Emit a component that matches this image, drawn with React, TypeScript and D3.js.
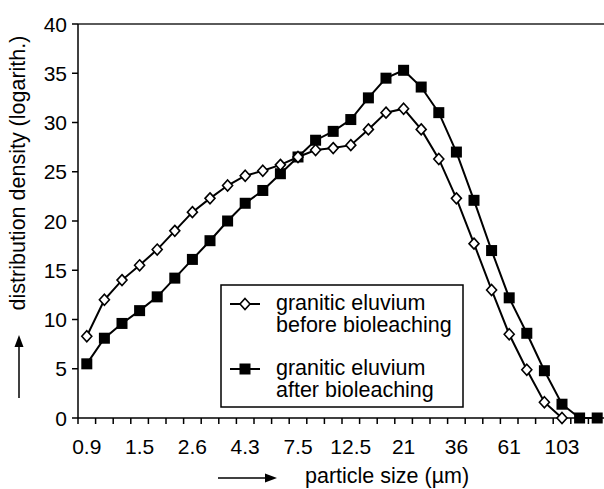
import React, { useEffect, useRef } from "react";
import * as d3 from "d3";

// one label every 3 classes (log-spaced size classes)
const tickLabels = ["0.9", "1.5", "2.6", "4.3", "7.5", "12.5", "21", "36", "61", "103"];
const classCount = 30;
const yTicks = [0, 5, 10, 15, 20, 25, 30, 35, 40];

const before = [8.3, 12.0, 14.0, 15.5, 17.1, 19.0, 20.9, 22.3, 23.6, 24.6, 25.1, 25.7, 26.5, 27.2, 27.4, 27.7, 29.3, 31.0, 31.4, 29.3, 26.3, 22.3, 17.7, 13.0, 8.5, 4.9, 1.6, 0];
const after = [5.5, 8.1, 9.6, 10.9, 12.3, 14.2, 16.1, 18.0, 20.0, 21.8, 23.1, 24.8, 26.5, 28.2, 29.1, 30.3, 32.5, 34.5, 35.3, 33.6, 31.0, 27.0, 22.1, 17.0, 12.2, 8.6, 4.8, 1.4, 0, 0];

const seriesNames = [
    ["granitic eluvium", "before bioleaching"],
    ["granitic eluvium", "after bioleaching"]
];

const FONT = "'Liberation Sans', Arial, sans-serif";

const App = () => {
    const svgRef = useRef(null);

    useEffect(() => {
        const width = 604, height = 489;
        const margin = { top: 24, left: 78, bottom: 71 };
        const plotRight = 606;

        const svg = d3.select(svgRef.current);
        svg.selectAll("*").remove();

        const classes = d3.range(classCount);
        const x = d3.scaleBand().domain(classes).range([margin.left, plotRight]).padding(0);
        const cx = (i) => x(i) + x.bandwidth() / 2;

        const y = d3.scaleLinear().domain([0, 40]).range([height - margin.bottom, margin.top]);

        // top frame line (grey)
        svg.append("line")
            .attr("x1", margin.left).attr("x2", plotRight)
            .attr("y1", y(40)).attr("y2", y(40))
            .attr("stroke", "#5a5a5a").attr("stroke-width", 2);

        // y axis
        svg.append("line")
            .attr("x1", margin.left).attr("x2", margin.left)
            .attr("y1", y(40)).attr("y2", y(0))
            .attr("stroke", "#000").attr("stroke-width", 1.5);
        svg.selectAll(".ytick").data(yTicks).enter().append("line")
            .attr("x1", margin.left - 6).attr("x2", margin.left)
            .attr("y1", d => y(d)).attr("y2", d => y(d))
            .attr("stroke", "#000").attr("stroke-width", 1.5);
        svg.selectAll(".ylab").data(yTicks).enter().append("text")
            .attr("x", 67).attr("y", d => y(d) + 7.5)
            .attr("text-anchor", "end")
            .style("font-family", FONT).style("font-size", "21px")
            .text(d => d);

        // x axis
        svg.append("line")
            .attr("x1", margin.left).attr("x2", plotRight)
            .attr("y1", y(0)).attr("y2", y(0))
            .attr("stroke", "#000").attr("stroke-width", 1.5);
        svg.selectAll(".xtick").data(d3.range(classCount + 1)).enter().append("line")
            .attr("x1", d => margin.left + d * x.bandwidth())
            .attr("x2", d => margin.left + d * x.bandwidth())
            .attr("y1", y(0)).attr("y2", y(0) + 6)
            .attr("stroke", "#000").attr("stroke-width", 1.5);
        svg.selectAll(".xlab").data(tickLabels).enter().append("text")
            .attr("x", (d, i) => cx(i * 3))
            .attr("y", 454)
            .attr("text-anchor", "middle")
            .style("font-family", FONT).style("font-size", "21px")
            .text(d => d);

        // axis titles with arrows
        svg.append("text")
            .attr("transform", "translate(25,173) rotate(-90)")
            .attr("text-anchor", "middle")
            .style("font-family", FONT).style("font-size", "21.5px")
            .text("distribution density (logarith.)");
        svg.append("line")
            .attr("x1", 19).attr("x2", 19).attr("y1", 398).attr("y2", 345)
            .attr("stroke", "#000").attr("stroke-width", 1.5);
        svg.append("path").attr("d", "M19,335 L14.5,347 L23.5,347 Z").attr("fill", "#000");

        svg.append("text")
            .attr("x", 305).attr("y", 483)
            .style("font-family", FONT).style("font-size", "21.5px")
            .text("particle size (µm)");
        svg.append("line")
            .attr("x1", 218).attr("x2", 266).attr("y1", 478).attr("y2", 478)
            .attr("stroke", "#000").attr("stroke-width", 1.5);
        svg.append("path").attr("d", "M277,478 L265,473.5 L265,482.5 Z").attr("fill", "#000");

        // lines
        const line = d3.line().x((d, i) => cx(i)).y(d => y(d));
        [before, after].forEach(s => {
            svg.append("path")
                .datum(s)
                .attr("fill", "none")
                .attr("stroke", "#000")
                .attr("stroke-width", 2)
                .attr("d", line);
        });

        const diamond = (px, py) => `M${px},${py - 5.5} L${px + 5},${py} L${px},${py + 5.5} L${px - 5},${py} Z`;

        svg.selectAll(".sq").data(after).enter().append("rect")
            .attr("x", (d, i) => cx(i) - 5.5)
            .attr("y", d => y(d) - 5.5)
            .attr("width", 11).attr("height", 11)
            .attr("fill", "#000");

        svg.selectAll(".dm").data(before).enter().append("path")
            .attr("d", (d, i) => diamond(cx(i), y(d)))
            .attr("fill", "#fff").attr("stroke", "#000").attr("stroke-width", 1.6);

        // legend
        const lg = svg.append("g");
        lg.append("rect")
            .attr("x", 221).attr("y", 285).attr("width", 242).attr("height", 122)
            .attr("fill", "#fff").attr("stroke", "#000").attr("stroke-width", 1.5);
        const rows = [304, 369];
        seriesNames.forEach((names, k) => {
            lg.append("line")
                .attr("x1", 230).attr("x2", 260).attr("y1", rows[k]).attr("y2", rows[k])
                .attr("stroke", "#000").attr("stroke-width", 2);
            if (k === 0) {
                lg.append("path").attr("d", diamond(245, rows[k]))
                    .attr("fill", "#fff").attr("stroke", "#000").attr("stroke-width", 1.6);
            } else {
                lg.append("rect").attr("x", 245 - 5.5).attr("y", rows[k] - 5.5)
                    .attr("width", 11).attr("height", 11).attr("fill", "#000");
            }
            names.forEach((t, j) => {
                lg.append("text")
                    .attr("x", 276).attr("y", rows[k] + 6 + j * 22)
                    .style("font-family", FONT).style("font-size", "21.5px")
                    .text(t);
            });
        });
    }, []);

    return (
        <svg ref={svgRef} width={604} height={489}
            style={{ position: "absolute", left: 0, top: 0, background: "#fff" }} />
    );
};

export default App;
